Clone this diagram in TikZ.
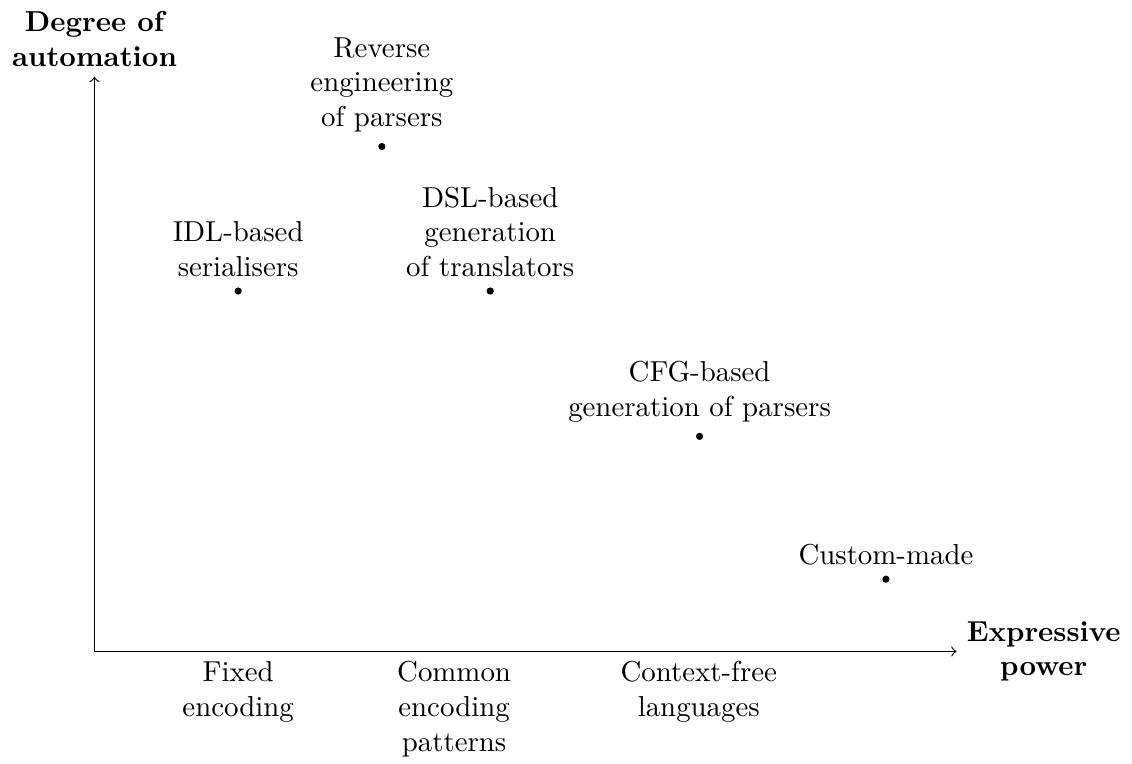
\documentclass[tikz,border=0pt]{standalone}
\usetikzlibrary{positioning}
\tikzstyle{point} = [circle, fill=black, inner sep=0pt, minimum size=2.5pt]
\tikzstyle{tag} = [align=center]
\tikzstyle{axislabel} = [align=center, font=\bfseries]
\tikzstyle{axis} = [draw, ->]

\begin{document}
\begin{tikzpicture}[node distance = 0pt]
      \useasboundingbox (-1.151,-1.370) rectangle (12.637,7.935);
      \coordinate (origin) at (0,0);
      \coordinate (ytip) at (0,7);
      \coordinate (xtip) at (10.5,0);
      \node [axislabel, above= of ytip] (ylabel) {Degree of\\automation};
      \node [axislabel, right= of xtip] (xlabel) {Expressive\\power};
      % Approaches
      \node [point] (idl) at (1.75,4.39) {};
      \node [point] (reverse) at (3.50,6.15) {};
      \node [point] (dsl) at (4.82,4.39) {};
      \node [point] (cfg) at (7.37,2.62) {};
      \node [point] (custom) at (9.64,0.88) {};
      \node [tag, above= of idl] (idltag) {IDL-based\\serialisers};
      \node [tag, above= of reverse] (reversetag) {Reverse\\engineering\\of parsers};
      \node [tag, above= of dsl] (dsltag) {DSL-based\\generation\\of translators};
      \node [tag, above= of cfg] (cfgtag) {CFG-based\\generation of parsers};
      \node [tag, above= of custom] (customtag) {Custom-made};
      % Classes of formats
      \node [tag, anchor=north] (fixed) at (1.75,0) {Fixed\\encoding};
      \node [tag, anchor=north] (common) at (4.38,0) {Common\\encoding\\patterns};
      \node [tag, anchor=north] (cfree) at (7.36,0) {Context-free\\languages};
      % Draw axes
      \path [axis] (origin) -- (ytip);
      \path [axis] (origin) -- (xtip);
  \end{tikzpicture}
\end{document}
